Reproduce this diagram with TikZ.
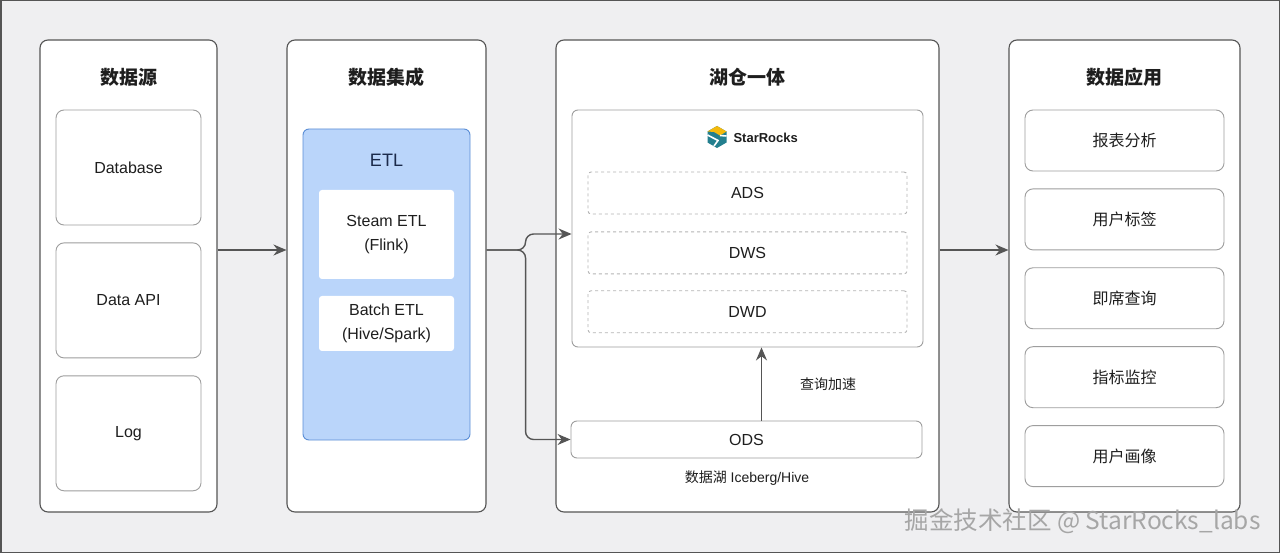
\documentclass[tikz,border=0pt]{standalone}
\usepackage{fontspec}
\setmainfont{Liberation Sans}
\newfontfamily\cjk{Noto Sans CJK SC}
\usetikzlibrary{arrows.meta,calc,positioning}
\definecolor{bg}{HTML}{EFEFF1}
\definecolor{edge}{HTML}{555555}
\definecolor{soft}{HTML}{9E9E9E}
\definecolor{dash}{HTML}{B4B4B4}
\definecolor{etlfill}{HTML}{BAD5FA}
\definecolor{etledge}{HTML}{5B8ED6}
\definecolor{ink}{HTML}{1E1E1E}
\definecolor{navy}{HTML}{1B2A4A}
\definecolor{srteal}{HTML}{237F8E}
\definecolor{sryellow}{HTML}{F4B90B}

\begin{document}
\begin{tikzpicture}[x=1pt, y=-1pt, >=Stealth, text=ink,
    column/.style={rectangle, draw=edge, line width=1.1pt, fill=white, rounded corners=8pt, minimum width=#1, minimum height=472pt, inner sep=0pt},
    heading/.style={font=\cjk\bfseries\fontsize{19}{22}\selectfont},
    srcbox/.style={rectangle, draw=soft, line width=0.9pt, rounded corners=8pt, minimum width=145pt, minimum height=115pt, font=\fontsize{16}{19}\selectfont},
    appbox/.style={rectangle, draw=soft, line width=0.9pt, rounded corners=8pt, minimum width=199pt, minimum height=61pt, font=\cjk\fontsize{16}{19}\selectfont},
    etlbox/.style={rectangle, fill=white, rounded corners=3pt, minimum width=135pt, minimum height=#1, align=center, font=\fontsize{16}{24}\selectfont},
    layer/.style={rectangle, draw=dash, dashed, line width=0.9pt, rounded corners=3pt, minimum width=319pt, minimum height=42pt, font=\fontsize{16}{19}\selectfont},
    note/.style={font=\cjk\fontsize{14}{16}\selectfont},
    flow/.style={draw=edge, line width=1.4pt, -{Stealth[length=13pt, width=11pt]}}]

    % canvas and frame
    \useasboundingbox (0,0) rectangle (1280,553);
    \fill[bg] (0,0) rectangle (1280,553);
    \draw[edge, line width=1.5pt] (0.75,0.75) rectangle (1279.25,552.25);

    % four columns
    \node[column=177pt] (src) at (128.5,276) {};
    \node[column=199pt] (integ) at (386.5,276) {};
    \node[column=383pt] (lake) at (747.5,276) {};
    \node[column=231pt] (app) at (1124.5,276) {};

    \node[heading] (srcT) at ([yshift=-38pt]src.north) {数据源};
    \node[heading] (integT) at ([yshift=-38pt]integ.north) {数据集成};
    \node[heading] (lakeT) at ([yshift=-38pt]lake.north) {湖仓一体};
    \node[heading] (appT) at ([yshift=-38pt]app.north) {数据应用};

    % data sources
    \node[srcbox] (db) at (128.5,167.5) {Database};
    \node[srcbox, below=17pt of db] (api) {Data API};
    \node[srcbox, below=17pt of api] (log) {Log};

    % ETL
    \node[rectangle, draw=etledge, line width=0.9pt, fill=etlfill, rounded corners=6pt, minimum width=167pt, minimum height=311pt] (etl) at (386.5,284.5) {};
    \node[font=\fontsize{18}{21}\selectfont, text=navy] (etlT) at (386.5,160) {ETL};
    \node[etlbox=89pt] (steam) at (386.5,234.5) {Steam ETL\\(Flink)};
    \node[etlbox=55pt] (batch) at (386.5,323.5) {Batch ETL\\(Hive/Spark)};

    % lakehouse
    \node[rectangle, draw=soft, line width=0.9pt, rounded corners=6pt, minimum width=351pt, minimum height=237pt] (sr) at (747.5,228.5) {};
    \coordinate (logo) at (717,137);
    \begin{scope}[shift={(logo)}]
        \fill[srteal] (0,-11) -- (9.5,-5.5) -- (9.5,5.5) -- (0,11) -- (-9.5,5.5) -- (-9.5,-5.5) -- cycle;
        \fill[sryellow] (-9.5,-5.5) -- (0,-11) -- (9.5,-5.5) -- (3,-1.5) -- (-3,-5) -- cycle;
        \draw[white, line width=1.6pt] (-9.5,-2) -- (1,3.5) -- (-3,9);
        \draw[white, line width=1.6pt] (9.5,-1) -- (3,-1.5);
    \end{scope}
    \node[anchor=west, font=\bfseries\fontsize{13}{15}\selectfont] (srname) at (730,137.5) {StarRocks};
    \node[layer] (ads) at (747.5,193) {ADS};
    \node[layer, below=17pt of ads] (dws) {DWS};
    \node[layer, below=16pt of dws] (dwd) {DWD};
    \node[rectangle, draw=soft, line width=0.9pt, rounded corners=6pt, minimum width=351pt, minimum height=37pt, font=\fontsize{16}{19}\selectfont] (ods) at (746.5,439.5) {ODS};
    \node[note] (accel) at (828,384) {查询加速};
    \node[font=\fontsize{14}{16}\selectfont] (lakeN) at (747,478) {{\cjk 数据湖} Iceberg/Hive};

    % applications
    \node[appbox] (rpt) at (1124.5,140.5) {报表分析};
    \node[appbox, below=17pt of rpt] (tag) {用户标签};
    \node[appbox, below=17pt of tag] (adhoc) {即席查询};
    \node[appbox, below=17pt of adhoc] (mon) {指标监控};
    \node[appbox, below=17pt of mon] (prof) {用户画像};

    % connectors
    \coordinate (mid) at (0,250);
    \draw[flow] (src.east |- mid) -- (integ.west |- mid);
    \draw[flow, rounded corners=8pt] (integ.east |- mid) -- ++(39,0) |- ([yshift=-5.5pt]sr.west);
    \draw[flow, rounded corners=8pt] (integ.east |- mid) -- ++(39,0) |- (ods.west);
    \draw[flow] ([xshift=15pt]ods.north) -- ([xshift=15pt]ods.north |- sr.south);
    \draw[flow] (lake.east |- mid) -- (app.west |- mid);

    % watermark
    \node[anchor=east, text=gray!70, font=\cjk\fontsize{24.5}{27}\selectfont] (mark) at (1264,521) {掘金技术社区 @ StarRocks\_labs};
\end{tikzpicture}
\end{document}
